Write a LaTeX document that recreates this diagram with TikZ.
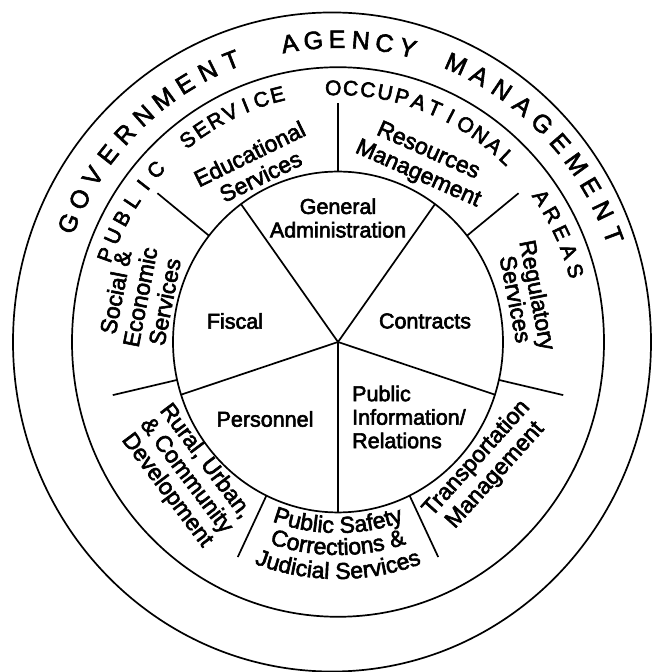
\documentclass[tikz,border=0pt]{standalone}
\usepackage{fontspec}
\setmainfont{Liberation Sans}
\usetikzlibrary{decorations.text}
\makeatletter
\newcommand\heavytext{\pgfsys@invoke{ 2 Tr 0.6 w }}
\makeatother
\begin{document}
\begin{tikzpicture}[x=1pt,y=1pt,
  ln/.style={line width=1.7pt},
  pielab/.style={font=\fontsize{21.5}{23.5}\selectfont, align=center, inner sep=0pt},
  ringlab/.style={font=\fontsize{23}{24}\selectfont, align=center, inner sep=0pt},
  outl/.style={font=\fontsize{25}{25}\selectfont, inner sep=0pt, anchor=center},
  midl/.style={font=\fontsize{21}{21}\selectfont, inner sep=0pt, anchor=center},
  arctext/.style={decorate, decoration={text along path, text align=center, text={|\fontsize{23}{23}\selectfont|#1}}}]
\heavytext
\useasboundingbox (0,0) rectangle (653,672);
\begin{scope}[shift={(338,330)}, yscale=1.033]
  \coordinate (c) at (0,0);
  \coordinate (oc) at (-6,0);
  \draw[ln] (oc) circle [radius=319];
  \draw[ln] (c) circle [radius=266];
  \draw[ln] (c) circle [radius=165];
  \foreach \a in {270,342,54,126,198} \draw[ln] (c) -- (\a:165);
  \foreach \k in {0,...,6} {
    \coordinate (din\k) at ({90+51.4286*\k}:165);
    \coordinate (dout\k) at ({90+51.4286*\k}:231);
    \draw[ln] (din\k) -- (dout\k);
  }
  % outer ring lettering
  \foreach \l [count=\i from 0] in {G,O,V,E,R,N,M,E,N,T} {
    \pgfmathsetmacro\ang{156.9-5.06*\i}
    \node[outl, rotate=\ang-90] (gov\i) at (\ang:293) {\l};
  }
  \foreach \l [count=\i from 0] in {A,G,E,N,C,Y} {
    \pgfmathsetmacro\ang{99.5-4.66*\i}
    \node[outl, rotate=\ang-90] (age\i) at (\ang:293) {\l};
  }
  \foreach \l [count=\i from 0] in {M,A,N,A,G,E,M,E,N,T} {
    \pgfmathsetmacro\ang{66.3-5.08*\i}
    \node[outl, rotate=\ang-90] (man\i) at (\ang:294) {\l};
  }
  % middle ring lettering
  \foreach \l [count=\i from 0] in {P,U,B,L,I,C} {
    \pgfmathsetmacro\ang{160-4.5*\i}
    \node[midl, rotate=\ang-90] (pub\i) at (\ang:247) {\l};
  }
  \foreach \l [count=\i from 0] in {S,E,R,V,I,C,E} {
    \pgfmathsetmacro\ang{127.5-3.88*\i}
    \node[midl, rotate=\ang-90] (ser\i) at (\ang:247) {\l};
  }
  \foreach \l [count=\i from 0] in {O,C,C,U,P,A,T,I,O,N,A,L} {
    \pgfmathsetmacro\ang{91.1-4.05*\i}
    \node[midl, rotate=\ang-90] (occ\i) at (\ang:246) {\l};
  }
  \foreach \l [count=\i from 0] in {A,R,E,A,S} {
    \pgfmathsetmacro\ang{34.5-4.575*\i}
    \node[midl, rotate=\ang-90] (are\i) at (\ang:247) {\l};
  }
\end{scope}
% pie labels
\node[pielab] (genadm) at (338,454) {General\\Administration};
\node[pielab] (fiscal) at (235,351) {Fiscal};
\node[pielab] (contracts) at (425,351) {Contracts};
\node[pielab] (personnel) at (265,253) {Personnel};
\node[pielab, align=left, anchor=west] (pubinf) at (352,255) {Public\\Information/\\Relations};
% ring labels
\node[ringlab, font=\fontsize{23}{25}\selectfont, rotate=26] (edu) at (255,507) {Educational\\Services};
\node[ringlab, font=\fontsize{23}{25}\selectfont, rotate=-24] (res) at (423,509) {Resources\\Management};
\node[ringlab, font=\fontsize{23}{25}\selectfont, rotate=79] (soc) at (140,375) {Social \&\\Economic\\Services};
\node[ringlab, font=\fontsize{23}{20}\selectfont, rotate=-79] (reg) at (527,375) {Regulatory\\Services};
\node[ringlab, rotate=-53] (rur) at (186,196) {Rural, Urban,\\\& Community\\Development};
\node[ringlab, font=\fontsize{23}{25}\selectfont, rotate=48] (tra) at (486,205) {Transportation\\Management};
% bottom sector, lettered along arcs
\path[arctext={Public Safety}] ([shift={(232:191)}]c) arc[start angle=232, end angle=308, radius=191];
\path[arctext={Corrections {\&}}] ([shift={(235:213)}]c) arc[start angle=235, end angle=305, radius=213];
\path[arctext={Judicial Services}] ([shift={(237:237)}]c) arc[start angle=237, end angle=303, radius=237];
\end{tikzpicture}
\end{document}
